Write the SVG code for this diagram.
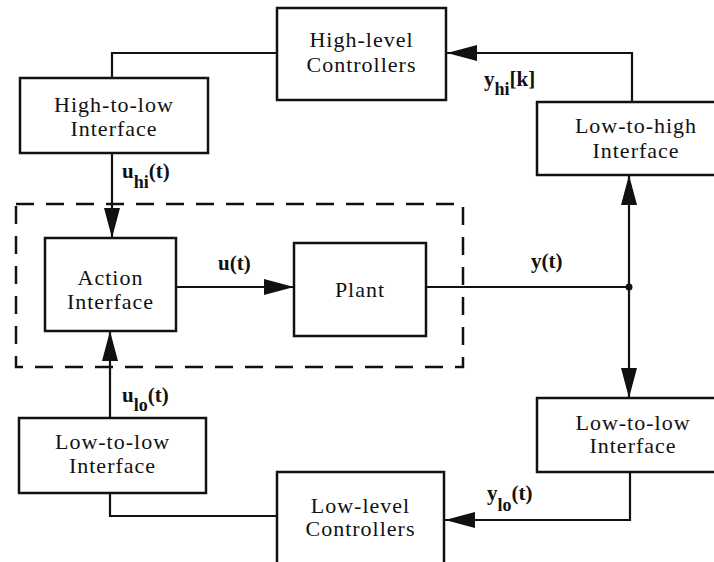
<svg xmlns="http://www.w3.org/2000/svg" width="714" height="562" viewBox="0 0 714 562">
<defs>
<style>
.box{fill:#fff;stroke:#111;stroke-width:2.5}
.t{font-family:"Liberation Serif","Times New Roman",serif;font-size:22px;fill:#111;text-anchor:middle;letter-spacing:1px}
.lab{font-family:"Liberation Serif","Times New Roman",serif;font-size:21px;font-weight:bold;fill:#111}
.sub{font-size:18px}
.ln{fill:none;stroke:#111;stroke-width:2.2}
.dash{fill:none;stroke:#111;stroke-width:2.5;stroke-dasharray:18 12}
</style>
<marker id="ah" viewBox="0 0 30 16" refX="30" refY="8" markerWidth="30" markerHeight="16" markerUnits="userSpaceOnUse" orient="auto">
<path d="M0,0 L30,8 L0,16 Z" fill="#111"/>
</marker>
</defs>
<rect width="714" height="562" fill="#fff"/>

<rect class="dash" x="16" y="204" width="447" height="163"/>

<g id="connectors">
<polyline class="ln" points="112,78 112,53 277,53"/>
<polyline class="ln" points="632,102 632,53 447,53" marker-end="url(#ah)"/>
<line class="ln" x1="112" y1="153" x2="112" y2="238" marker-end="url(#ah)"/>
<line class="ln" x1="176" y1="287" x2="294" y2="287" marker-end="url(#ah)"/>
<line class="ln" x1="426" y1="287" x2="629" y2="287"/>
<circle cx="629" cy="287" r="3.5" fill="#111"/>
<line class="ln" x1="629" y1="287" x2="629" y2="175" marker-end="url(#ah)"/>
<line class="ln" x1="629" y1="287" x2="629" y2="398" marker-end="url(#ah)"/>
<polyline class="ln" points="630,472 630,520 445,520" marker-end="url(#ah)"/>
<polyline class="ln" points="110,493 110,516 277,516"/>
<line class="ln" x1="110" y1="418" x2="110" y2="331" marker-end="url(#ah)"/>
<text class="lab" x="122" y="178">u<tspan class="sub" dy="10">hi</tspan><tspan dy="-10">(t)</tspan></text>
<text class="lab" x="484" y="86">y<tspan class="sub" dy="9">hi</tspan><tspan dy="-9">[k]</tspan></text>
<text class="lab" x="218" y="270">u(t)</text>
<text class="lab" x="531" y="268">y(t)</text>
<text class="lab" x="122" y="402">u<tspan class="sub" dy="9">lo</tspan><tspan dy="-9">(t)</tspan></text>
<text class="lab" x="487" y="500">y<tspan class="sub" dy="11">lo</tspan><tspan dy="-11">(t)</tspan></text>
</g>

<g id="high-level-controllers">
<rect class="box" x="277" y="8" width="169" height="92"/>
<text class="t" x="361.5" y="47">High-level</text>
<text class="t" x="361.5" y="72">Controllers</text>
</g>
<g id="high-to-low-interface">
<rect class="box" x="20" y="78" width="188" height="75"/>
<text class="t" x="114" y="112">High-to-low</text>
<text class="t" x="114" y="136">Interface</text>
</g>
<g id="low-to-high-interface">
<rect class="box" x="537" y="102" width="200" height="73"/>
<text class="t" x="636" y="133">Low-to-high</text>
<text class="t" x="636" y="158">Interface</text>
</g>
<g id="action-interface">
<rect class="box" x="45" y="238" width="131" height="93"/>
<text class="t" x="110.5" y="285">Action</text>
<text class="t" x="110.5" y="309">Interface</text>
</g>
<g id="plant">
<rect class="box" x="294" y="243" width="132" height="93"/>
<text class="t" x="360" y="297">Plant</text>
</g>
<g id="low-to-low-interface-right">
<rect class="box" x="537" y="398" width="200" height="74"/>
<text class="t" x="633" y="430">Low-to-low</text>
<text class="t" x="633" y="453">Interface</text>
</g>
<g id="low-to-low-interface-left">
<rect class="box" x="19" y="418" width="187" height="75"/>
<text class="t" x="112.5" y="449">Low-to-low</text>
<text class="t" x="112.5" y="473">Interface</text>
</g>
<g id="low-level-controllers">
<rect class="box" x="277" y="472" width="167" height="110"/>
<text class="t" x="360.5" y="513">Low-level</text>
<text class="t" x="360.5" y="536">Controllers</text>
</g>
</svg>
